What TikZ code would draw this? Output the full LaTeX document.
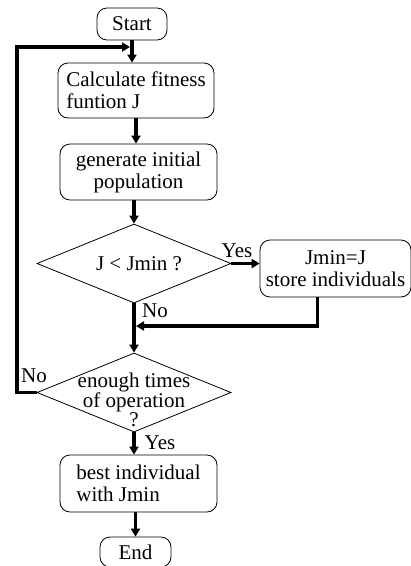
\documentclass[tikz,border=0pt]{standalone}
\usepackage{fontspec}
\setmainfont{Liberation Serif}
\usetikzlibrary{arrows.meta,shapes.geometric}
\begin{document}
\begin{tikzpicture}[x=1pt,y=-1pt,
  txt/.style={font=\fontsize{21}{22}\selectfont},
  box/.style={draw, line width=0.8pt, rounded corners=10pt, inner sep=0pt, txt},
  dia/.style={draw, line width=0.8pt, diamond, inner sep=0pt, minimum width=194pt, minimum height=79pt},
  flow/.style={line width=3.5pt, -{Triangle[length=8pt,width=9pt]}},
  lbl/.style={txt, inner sep=0pt}]
\useasboundingbox[fill=white] (0,0) rectangle (411,566);
% boxes
\node[box, minimum width=70pt, minimum height=32pt] (start) at (132,24) {Start};
\node[box, minimum width=156pt, minimum height=55pt, align=left] (calc) at (136,90.5) {Calculate fitness\\funtion J};
\node[box, minimum width=157pt, minimum height=56pt, align=center] (gen) at (138.5,172) {generate initial\\population};
\node[dia] (d1) at (134,263.5) {};
\node[lbl] (d1t) at (139,263.5) {J < Jmin ?};
\node[box, minimum width=151pt, minimum height=57pt, align=center] (jmin) at (335.5,268.5) {Jmin=J\\store individuals};
\node[dia] (d2) at (134,392.5) {};
\node[lbl, align=center, font=\fontsize{21}{19.5}\selectfont] (d2t) at (134,400) {enough times\\of operation\\?};
\node[box, minimum width=157pt, minimum height=57pt, align=left] (best) at (138.5,483.5) {best individual\\with Jmin};
\node[box, minimum width=71pt, minimum height=30pt] (end) at (135.5,552) {End};
% labels
\node[lbl] (yes1) at (237,251) {Yes};
\node[lbl] (no1) at (155,311) {No};
\node[lbl] (no2) at (34,376) {No};
\node[lbl] (yes2) at (160,443) {Yes};
% helper coordinates
\coordinate (fb) at (130,47);
\coordinate (fbc) at (17,47);
\coordinate (m1) at (136,326);
% connectors
\draw[flow] (start.south) -- (start.south |- calc.north);
\draw[flow] (calc.south) -- (calc.south |- gen.north);
\draw[flow] (d1.north |- gen.south) -- (d1.north);
\draw[flow] (d1.east) -- (d1.east -| jmin.west);
\draw[flow] (d1.south) -- (d2.north);
\draw[flow] ([xshift=-18pt]jmin.south) |- (m1);
\draw[flow] (d2.west) -| (fbc) -- (fb);
\draw[flow] (d2.south) -- (d2.south |- best.north);
\draw[flow] (end.north |- best.south) -- (end.north);
\end{tikzpicture}
\end{document}
